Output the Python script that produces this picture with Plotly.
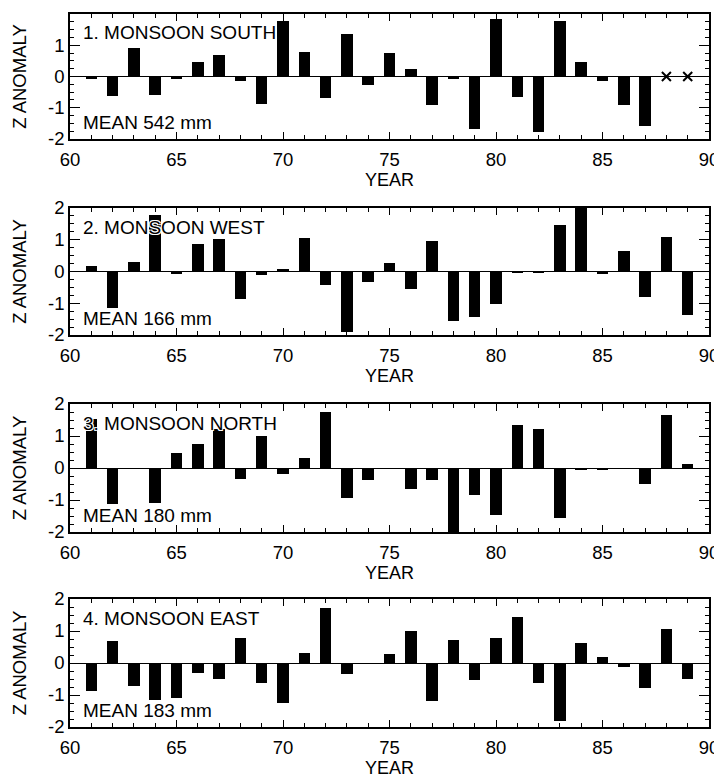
import plotly.graph_objects as go

years = list(range(61, 90))

south = [-0.08, -0.62, 0.90, -0.58, -0.08, 0.47, 0.69, -0.14, -0.88, 1.79,
         0.80, -0.70, 1.36, -0.28, 0.76, 0.25, -0.92, -0.07, -1.67, 1.84,
         -0.66, -1.77, 1.79, 0.48, -0.15, -0.90, -1.59, None, None]
south_missing_years = [88, 89]
south_missing_vals = [0, 0]

west = [0.16, -1.15, 0.31, 1.78, -0.08, 0.87, 1.01, -0.88, -0.12, 0.07,
        1.07, -0.41, -1.89, -0.32, 0.28, -0.56, 0.95, -1.56, -1.44, -1.01,
        -0.04, -0.06, 1.45, 2.00, -0.09, 0.64, -0.79, 1.08, -1.38]

north = [1.53, -1.14, 0.0, -1.10, 0.46, 0.74, 1.22, -0.33, 1.01, -0.18,
         0.30, 1.76, -0.95, -0.39, 0.0, -0.67, -0.37, -2.00, -0.83, -1.47,
         1.35, 1.21, -1.57, -0.05, -0.05, 0.0, -0.50, 1.67, 0.13]

east = [-0.88, 0.70, -0.73, -1.17, -1.08, -0.32, -0.50, 0.77, -0.63, -1.26,
        0.30, 1.71, -0.35, 0.0, 0.28, 0.99, -1.20, 0.73, -0.54, 0.79,
        1.45, -0.61, -1.82, 0.63, 0.19, -0.12, -0.77, 1.06, -0.50]

series = [south, west, north, east]
titles = ["1. MONSOON SOUTH", "2. MONSOON WEST", "3. MONSOON NORTH", "4. MONSOON EAST"]
means = ["MEAN 542 mm", "MEAN 166 mm", "MEAN 180 mm", "MEAN 183 mm"]

x_tickvals = [60, 65, 70, 75, 80, 85, 90]
y_tickvals = [-2, -1, 0, 1, 2]
y_ticktext = ["-2", "-1", "0", "1", "2"]

# page has an 8px body margin, so the figure is drawn 8px smaller and offset
OFF = 8
W, H = 722 - OFF, 778 - OFF
ML, MT = 70 - OFF, 14 - OFF
MR = W - (709 - OFF)
MB = H - (727 - OFF)
panel_px = [(14, 139), (208, 335), (404, 532), (599, 727)]
ph = H - MT - MB

FONT = "Liberation Sans, Arial, Helvetica, sans-serif"
HALO = "1px 1px 0 #fff, -1px -1px 0 #fff, 1px -1px 0 #fff, -1px 1px 0 #fff"

fig = go.Figure()
layout = dict(
    width=W, height=H,
    margin=dict(l=ML, r=MR, t=MT, b=MB, pad=0, autoexpand=False),
    paper_bgcolor="white", plot_bgcolor="white",
    showlegend=False,
    font=dict(family=FONT, size=18, color="black"),
    bargap=0,
)

annotations = []
for i, vals in enumerate(series):
    n = i + 1
    xa = "x" if n == 1 else f"x{n}"
    ya = "y" if n == 1 else f"y{n}"
    fig.add_trace(go.Bar(x=years, y=vals, xaxis=xa, yaxis=ya,
                         width=0.54, marker=dict(color="black", line=dict(width=0))))
    top, bot = panel_px[i]
    top -= OFF
    bot -= OFF
    d0 = (H - MB - bot) / ph
    d1 = (H - MB - top) / ph
    xkey = "xaxis" if n == 1 else f"xaxis{n}"
    ykey = "yaxis" if n == 1 else f"yaxis{n}"
    layout[xkey] = dict(
        domain=[0, 1], anchor=ya, range=[60, 90],
        tickmode="array", tickvals=x_tickvals,
        ticks="inside", ticklen=7, tickwidth=1.2,
        tickcolor="black", showline=True, linecolor="black", linewidth=1.5,
        mirror="allticks", showgrid=False, zeroline=False,
        minor=dict(tickmode="linear", dtick=1, tick0=60, ticks="inside", ticklen=4,
                   tickwidth=1, tickcolor="black", showgrid=False),
        ticklabelstandoff=3,
        tickfont=dict(size=18.5),
        title=dict(text="YEAR", font=dict(size=18), standoff=2),
        automargin=False,
    )
    layout[ykey] = dict(
        domain=[d0, d1], anchor=xa, range=[-2, 2],
        tickmode="array", tickvals=y_tickvals, ticktext=y_ticktext,
        ticks="inside", ticklen=10, tickwidth=1.2, tickcolor="black",
        showline=True, linecolor="black", linewidth=1.5, mirror="allticks",
        showgrid=False, zeroline=True, zerolinecolor="black", zerolinewidth=1.2,
        minor=dict(tickmode="linear", dtick=0.25, tick0=0, ticks="inside", ticklen=4,
                   tickwidth=1, tickcolor="black", showgrid=False),
        tickfont=dict(size=18.5),
        title=dict(text="Z ANOMALY", font=dict(size=18.5), standoff=17),
        automargin=False,
    )
    annotations.append(dict(text=titles[i], xref=f"{xa} domain", yref=f"{ya} domain",
                            x=0.017, y=0.85, xanchor="left", yanchor="middle", showarrow=False,
                            font=dict(size=19, color="black", shadow=HALO)))
    annotations.append(dict(text=means[i], xref=f"{xa} domain", yref=f"{ya} domain",
                            x=0.017, y=0.13, xanchor="left", yanchor="middle", showarrow=False,
                            font=dict(size=19, color="black", shadow=HALO)))

fig.add_trace(go.Scatter(x=south_missing_years, y=south_missing_vals, xaxis="x", yaxis="y",
                         mode="markers",
                         marker=dict(symbol="x-thin", size=9, line=dict(width=2, color="black"), color="black")))

layout["annotations"] = annotations
fig.update_layout(**layout)
fig.write_html("out.html")
